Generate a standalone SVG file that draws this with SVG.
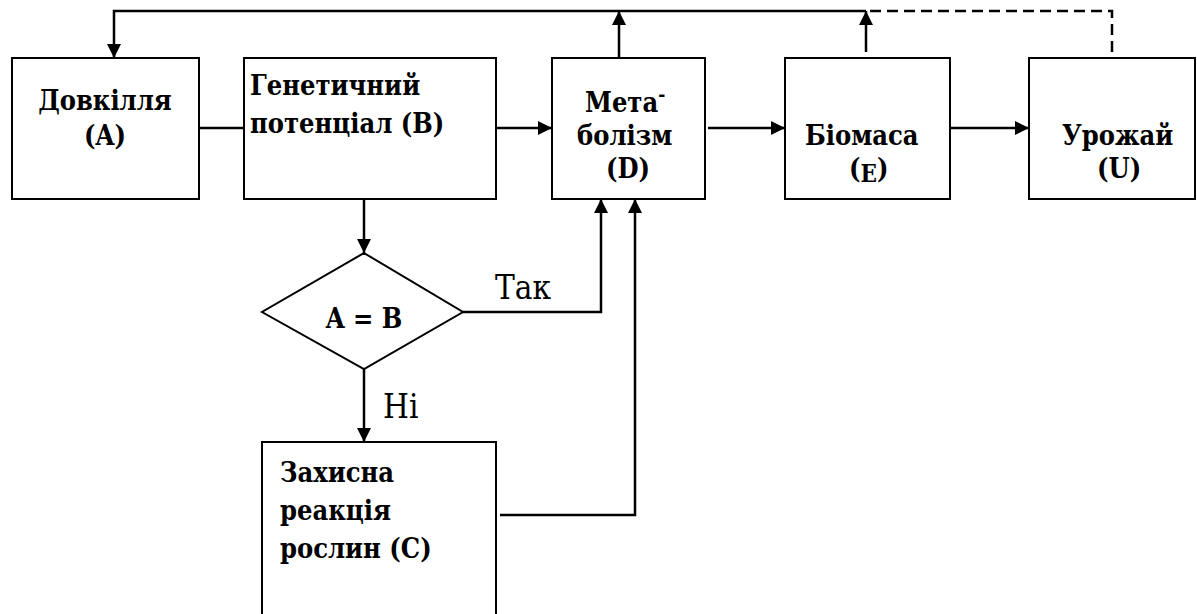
<svg xmlns="http://www.w3.org/2000/svg" width="1197" height="614" viewBox="0 0 1197 614">
<style>
.box{fill:#fff;stroke:#000;stroke-width:2}
.con{fill:none;stroke:#000;stroke-width:2.5}
.dash{fill:none;stroke:#000;stroke-width:2.5;stroke-dasharray:11 6}
</style>
<defs>
<marker id="ah" markerUnits="userSpaceOnUse" markerWidth="14" markerHeight="14" refX="14" refY="7" orient="auto">
<path d="M0,0 L14,7 L0,14 z" fill="#000"/>
</marker>
</defs>
<rect width="1197" height="614" fill="#fff"/>
<g id="connectors">
<polyline class="con" points="866,11 114,11 114,58" marker-end="url(#ah)"/>
<line class="con" x1="619" y1="58" x2="619" y2="11" marker-end="url(#ah)"/>
<line class="con" x1="866" y1="52" x2="866" y2="11" marker-end="url(#ah)"/>
<polyline class="dash" points="870,11 1112,11 1112,52"/>
<line class="con" x1="199" y1="128" x2="244" y2="128"/>
<line class="con" x1="496" y1="128" x2="552" y2="128" marker-end="url(#ah)"/>
<line class="con" x1="708" y1="128" x2="785" y2="128" marker-end="url(#ah)"/>
<line class="con" x1="950" y1="128" x2="1029" y2="128" marker-end="url(#ah)"/>
<line class="con" x1="364" y1="199" x2="364" y2="253" marker-end="url(#ah)"/>
<polyline class="con" points="463,312 601,312 601,199" marker-end="url(#ah)"/>
<line class="con" x1="364" y1="369" x2="364" y2="442" marker-end="url(#ah)"/>
<polyline class="con" points="500,515 635,515 635,199" marker-end="url(#ah)"/>
<g font-family="DejaVu Serif Condensed, DejaVu Serif, serif" font-stretch="condensed" font-size="33" fill="#000">
<text x="495" y="299">Так</text>
<text x="383" y="418">Ні</text>
</g>
</g>
<g font-family="DejaVu Serif Condensed, DejaVu Serif, serif" font-stretch="condensed" font-weight="bold" font-size="27" fill="#000">
<g id="nodeA">
<rect class="box" x="12" y="58" width="187" height="141"/>
<text x="105" y="110" text-anchor="middle">Довкілля</text>
<text x="105" y="145" text-anchor="middle">(A)</text>
</g>
<g id="nodeB">
<rect class="box" x="244" y="58" width="252" height="141"/>
<text x="250" y="95">Генетичний</text>
<text x="250" y="133">потенціал (B)</text>
</g>
<g id="nodeD">
<rect class="box" x="552" y="58" width="153" height="141"/>
<text x="585" y="112">Мета<tspan font-size="19" dy="-11">-</tspan></text>
<text x="577" y="145">болізм</text>
<text x="606" y="178">(D)</text>
</g>
<g id="nodeE">
<rect class="box" x="785" y="58" width="165" height="141"/>
<text x="805" y="145">Біомаса</text>
<text x="849" y="178">(<tspan font-size="24" dy="4">E</tspan><tspan dy="-4">)</tspan></text>
</g>
<g id="nodeU">
<rect class="box" x="1029" y="58" width="166" height="141"/>
<text x="1062" y="145">Урожай</text>
<text x="1097" y="178">(U)</text>
</g>
<g id="nodeDecision">
<polygon class="box" points="364,253 463,312 364,369 262,312"/>
<text x="364" y="328" text-anchor="middle">A = B</text>
</g>
<g id="nodeC">
<rect class="box" x="262" y="442" width="234" height="180"/>
<text x="280" y="482">Захисна</text>
<text x="280" y="520">реакція</text>
<text x="280" y="558">рослин (С)</text>
</g>
</g>
</svg>
